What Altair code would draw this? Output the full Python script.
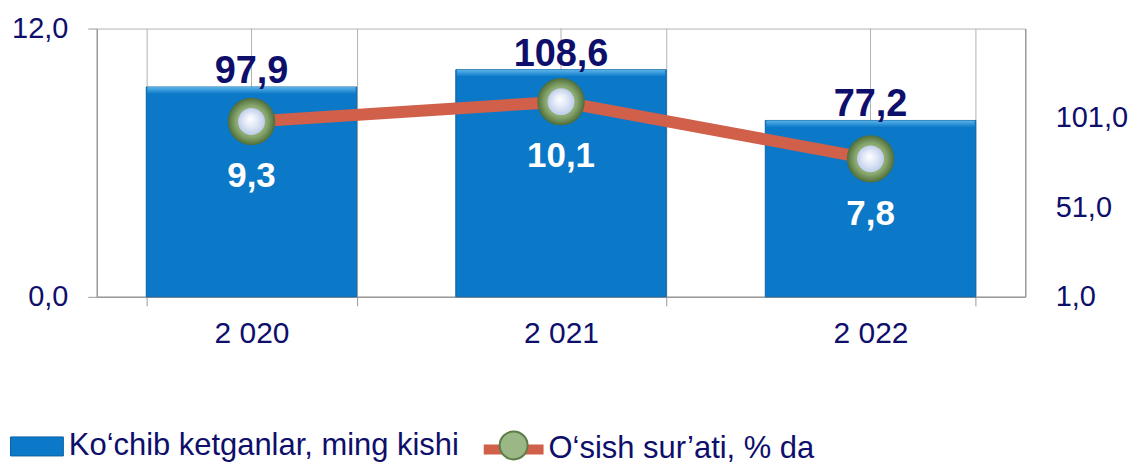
import altair as alt
import pandas as pd

# ---- data ----
years = ["2 020", "2 021", "2 022"]
departed = [97.9, 108.6, 77.2]          # Ko‘chib ketganlar, ming kishi (bars)
growth = [9.3, 10.1, 7.8]               # O‘sish sur’ati, % da (line)
left_ticks = [0.0, 12.0]
right_ticks = [1.0, 51.0, 101.0]
bar_name = "Ko‘chib ketganlar, ming kishi"
line_name = "O‘sish sur’ati, % da"

df = pd.DataFrame({"year": years, "departed": departed, "growth": growth})
df["bar_series"] = bar_name
df["line_series"] = line_name
left_df = pd.DataFrame({"v": left_ticks})
right_df = pd.DataFrame({"v": right_ticks})

NAVY = "#0e0e6b"
FONT = "Liberation Sans"
GRID = "#b3b3b3"
AXC = "#9a9a9a"
BAR_DOMAIN = [-32.0, 134.1]
LINE_DOMAIN = [2.25, 13.04]
COMMA = "replace(format(datum.value, '.1f'), '.', ',')"

x_enc = alt.X(
    "year:N", sort=years, title=None,
    scale=alt.Scale(paddingInner=0.32, paddingOuter=0.16),
    axis=alt.Axis(tickBand="extent", grid=True, gridColor=GRID, domainColor=AXC,
                  domainWidth=1.5, tickColor=AXC, tickSize=9, labelFontSize=30,
                  labelColor=NAVY, labelFont=FONT, labelPadding=13, labelAngle=0),
)

def ybar(field):
    return alt.Y(field, scale=alt.Scale(domain=BAR_DOMAIN, nice=False, zero=False), axis=None)

def yline(field):
    return alt.Y(field, scale=alt.Scale(domain=LINE_DOMAIN, nice=False, zero=False), axis=None)

# center gridlines
center_rules = alt.Chart(df).mark_rule(color=GRID, strokeWidth=1).encode(x=x_enc)

left_axis = alt.Chart(left_df).mark_point(opacity=0).encode(
    y=alt.Y("v:Q", scale=alt.Scale(domain=[0, 12], nice=False),
            axis=alt.Axis(orient="left", values=left_ticks, labelExpr=COMMA, grid=True,
                          gridColor=GRID, tickSize=9, tickColor=AXC, domainColor=AXC,
                          domainWidth=1.5, labelFontSize=29, labelColor=NAVY,
                          labelFont=FONT, labelPadding=20, title=None))
)

right_axis = alt.Chart(right_df).mark_point(opacity=0).encode(
    y=alt.Y("v:Q", scale=alt.Scale(domain=[1, 151], nice=False, zero=False),
            axis=alt.Axis(orient="right", values=right_ticks, labelExpr=COMMA, grid=False,
                          ticks=False, tickSize=0, domainColor=AXC, domainWidth=1.5,
                          labelFontSize=29, labelColor=NAVY, labelFont=FONT,
                          labelPadding=30, title=None))
)

bars = alt.Chart(df).mark_bar(stroke="#0a62a6", strokeWidth=1).encode(
    x=x_enc,
    y=ybar("departed:Q"),
    y2=alt.datum(BAR_DOMAIN[0]),
    fill=alt.Fill("bar_series:N", scale=alt.Scale(range=["#0b78c8"]),
                  legend=alt.Legend(orient="none", legendX=-87, legendY=392, title=None,
                                    symbolType="M-1,-0.36L1,-0.36L1,0.36L-1,0.36Z",
                                    symbolSize=2809, symbolStrokeColor="#0a62a6",
                                    symbolStrokeWidth=1, labelFontSize=31, labelColor=NAVY,
                                    labelFont=FONT, labelOffset=5, padding=0, labelLimit=0)),
)

bar_top = alt.Chart(df).mark_tick(
    thickness=7, size=209, yOffset=3.5,
    color=alt.LinearGradient(gradient="linear",
                             stops=[alt.GradientStop(color="#7fcff8", offset=0),
                                    alt.GradientStop(color="#0b78c8", offset=1)],
                             x1=0, x2=0, y1=0, y2=1),
).encode(x=x_enc, y=ybar("departed:Q"))

bar_labels = alt.Chart(df).transform_calculate(
    lbl="replace(format(datum.departed, '.1f'), '.', ',')"
).mark_text(fontSize=38, fontWeight="bold", color=NAVY, baseline="alphabetic",
            dy=-4, font=FONT).encode(x=x_enc, y=ybar("departed:Q"), text="lbl:N")

line = alt.Chart(df).mark_line(strokeWidth=12).encode(
    x=x_enc,
    y=yline("growth:Q"),
    stroke=alt.Stroke("line_series:N", scale=alt.Scale(range=["#d0604a"]),
                      legend=alt.Legend(orient="none", legendX=383, legendY=387, title=None,
                                        symbolType="stroke", symbolSize=3600,
                                        symbolStrokeWidth=10, labelFontSize=31,
                                        labelColor=NAVY, labelFont=FONT, labelOffset=0,
                                        padding=0, labelLimit=0)),
)

marker_base = alt.Chart(df).mark_point(filled=True, size=2116, shape="circle", opacity=1,
                                        stroke="#4f6e3b", strokeWidth=1.5).encode(
    x=x_enc,
    y=yline("growth:Q"),
    color=alt.Color("line_series:N", scale=alt.Scale(range=["#9ab785"]),
                    legend=alt.Legend(orient="none", legendX=403, legendY=403, title=None,
                                      symbolType="circle", symbolSize=784,
                                      symbolStrokeColor="#5d7d48", symbolStrokeWidth=2,
                                      symbolOpacity=1, labelExpr="''", padding=0, zindex=1)),
)

marker_ring = alt.Chart(df).mark_point(
    filled=True, size=2116, shape="circle", opacity=1,
    color=alt.RadialGradient(gradient="radial",
                             stops=[alt.GradientStop(color="#c6dbb4", offset=0),
                                    alt.GradientStop(color="#86a56c", offset=0.7),
                                    alt.GradientStop(color="#53723e", offset=1)],
                             x1=0.5, y1=0.5, x2=0.5, y2=0.5, r1=0, r2=0.5),
).encode(x=x_enc, y=yline("growth:Q"))

marker_core = alt.Chart(df).mark_point(
    filled=True, size=729, shape="circle", opacity=1,
    color=alt.RadialGradient(gradient="radial",
                             stops=[alt.GradientStop(color="#ffffff", offset=0),
                                    alt.GradientStop(color="#e2e9f7", offset=0.5),
                                    alt.GradientStop(color="#bfcde9", offset=1)],
                             x1=0.45, y1=0.4, x2=0.5, y2=0.5, r1=0, r2=0.5),
).encode(x=x_enc, y=yline("growth:Q"))

line_labels = alt.Chart(df).transform_calculate(
    lbl="replace(format(datum.growth, '.1f'), '.', ',')"
).mark_text(fontSize=35, fontWeight="bold", color="white", baseline="alphabetic",
            dy=66, font=FONT).encode(x=x_enc, y=yline("growth:Q"), text="lbl:N")

chart = alt.layer(
    center_rules, left_axis, right_axis, bars, bar_top, bar_labels,
    line, marker_base, marker_ring, marker_core, line_labels,
).resolve_scale(y="independent").properties(
    width=931, height=269,
    autosize=alt.AutoSizeParams(type="none"),
    padding={"left": 89, "top": 20, "right": 105, "bottom": 166},
    background="white",
).configure_view(stroke=None)

chart.save("out.html", embed_options={"renderer": "svg", "actions": False})
